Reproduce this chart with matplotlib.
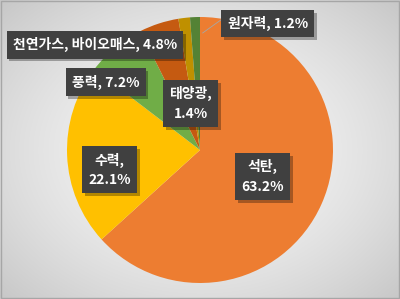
import numpy as np
import matplotlib.pyplot as plt
import matplotlib.patheffects as pe

plt.rcParams['font.family'] = ['Noto Sans CJK KR', 'DejaVu Sans']

# slices clockwise from 12 o'clock
names = ['석탄', '수력', '풍력', '천연가스, 바이오매스', '태양광', '원자력']
shares = [63.2, 22.1, 7.2, 4.8, 1.4, 1.2]
colors = ['#ED7D31', '#FFC000', '#70AD47', '#C55A11', '#BF9000', '#548235']

# label text and where the boxes sit (axes data units)
label_text = ['석탄,\n63.2%', '수력,\n22.1%', '풍력, 7.2%',
              '천연가스, 바이오매스, 4.8%', '태양광,\n1.4%', '원자력, 1.2%']
label_pos = [(0.47, -0.20), (-0.68, -0.15), (-0.71, 0.51),
             (-0.79, 0.79), (-0.07, 0.35), (0.51, 0.95)]

fig = plt.figure(figsize=(4, 2.99), dpi=100)

# radial gray background
bg = fig.add_axes([0, 0, 1, 1])
yy, xx = np.mgrid[0:299, 0:400]
r = np.sqrt(((xx - 200) / 260.0) ** 2 + ((yy - 150) / 200.0) ** 2)
shade = 0.97 - 0.17 * np.clip(r, 0, 1.2) ** 1.6
bg.imshow(np.dstack([shade] * 3), extent=[0, 1, 0, 1], aspect='auto', origin='upper')
bg.add_patch(plt.Rectangle((0.002, 0.003), 0.996, 0.994, fill=False,
                           edgecolor='#A6A6A6', linewidth=1, transform=bg.transAxes))
bg.set_axis_off()

ax = fig.add_axes([67 / 400, 16 / 299, 266 / 400, 266 / 299])
ax.pie(shares, colors=colors, startangle=90, counterclock=False, radius=1,
       wedgeprops=dict(linewidth=0))
ax.set_xlim(-1, 1)
ax.set_ylim(-1, 1)
ax.set_aspect('equal')
ax.set_axis_off()

# leader line for the nuclear label
ax.plot([0.16, 0.02], [0.98, 0.88], color='#A6A6A6', linewidth=0.6)

for txt, (x, y) in zip(label_text, label_pos):
    t = ax.text(x, y, txt, ha='center', va='center', fontsize=10, fontweight='bold',
                color='white', linespacing=1.5,
                bbox=dict(boxstyle='square,pad=0.45', facecolor='#404040', edgecolor='none'))
    t.get_bbox_patch().set_path_effects([
        pe.SimplePatchShadow(offset=(2, -2), shadow_rgbFace='black', alpha=0.3),
        pe.Normal()])

fig.savefig('out.png', dpi=100)
